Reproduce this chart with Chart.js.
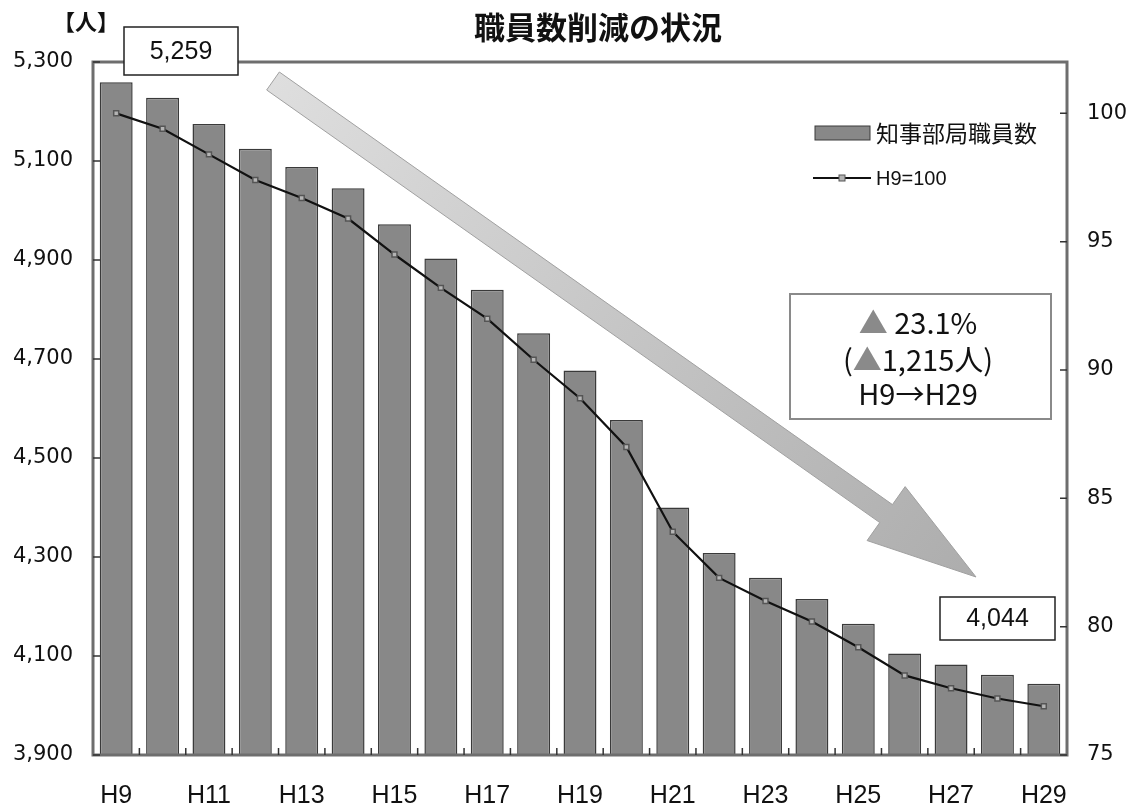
<!DOCTYPE html>
<html>
<head>
<meta charset="utf-8">
<script src="https://cdn.jsdelivr.net/npm/chart.js@4.4.0/dist/chart.umd.min.js"></script>
<style>
  body { margin: 0; background: #fff; }
</style>
</head>
<body>
<canvas id="grafico" width="1141" height="810"></canvas>
<script>
// data
var years = ['H9','H10','H11','H12','H13','H14','H15','H16','H17','H18','H19',
             'H20','H21','H22','H23','H24','H25','H26','H27','H28','H29'];
var staffCount = [5259, 5228, 5175, 5125, 5088, 5045, 4972, 4903, 4840, 4752, 4677,
                  4577, 4400, 4308, 4258, 4215, 4165, 4105, 4083, 4062, 4044];
var indexH9 = [100, 99.4, 98.4, 97.4, 96.7, 95.9, 94.5, 93.2, 92.0, 90.4, 88.9,
               87.0, 83.7, 81.9, 81.0, 80.2, 79.2, 78.1, 77.6, 77.2, 76.9];
var leftTicks = [3900, 4100, 4300, 4500, 4700, 4900, 5100, 5300];
var rightTicks = [75, 80, 85, 90, 95, 100];
var summaryLines = ['▲ 23.1%', '(▲1,215人)', 'H9→H29'];
var chartTitle = '職員数削減の状況';

var FONT = "'Liberation Sans', Arial, 'Noto Sans CJK JP', sans-serif";
var AXFONT = "'DejaVu Sans', 'Liberation Sans', sans-serif";
var JFONT = "'Noto Sans CJK JP', 'Liberation Sans', sans-serif";

function fmt(v) {
    return v.toLocaleString('en-US');
}

// frame, inward tick marks, the big arrow, text boxes and legend
var extras = {
    id: 'extras',
    beforeDatasetsDraw: function(chart) {
        var ctx = chart.ctx;
        // big diagonal arrow
        var sx = 273, sy = 81, tx = 976, ty = 577;
        var dx = tx - sx, dy = ty - sy;
        var len = Math.sqrt(dx * dx + dy * dy);
        var ux = dx / len, uy = dy / len;
        var nx = -uy, ny = ux;
        var bx = tx - ux * 110, by = ty - uy * 110;
        var w = 11, hw = 33;
        ctx.save();
        var g = ctx.createLinearGradient(sx, sy, tx, ty);
        g.addColorStop(0, '#dedede');
        g.addColorStop(1, '#adadad');
        ctx.fillStyle = g;
        ctx.strokeStyle = '#a0a0a0';
        ctx.lineWidth = 1;
        ctx.beginPath();
        ctx.moveTo(sx + nx * w, sy + ny * w);
        ctx.lineTo(bx + nx * w, by + ny * w);
        ctx.lineTo(bx + nx * hw, by + ny * hw);
        ctx.lineTo(tx, ty);
        ctx.lineTo(bx - nx * hw, by - ny * hw);
        ctx.lineTo(bx - nx * w, by - ny * w);
        ctx.lineTo(sx - nx * w, sy - ny * w);
        ctx.closePath();
        ctx.fill();
        ctx.stroke();
        ctx.restore();
    },
    afterDraw: function(chart) {
        var ctx = chart.ctx;
        var a = chart.chartArea;
        var x = chart.scales.x, y = chart.scales.y, y2 = chart.scales.y2;
        ctx.save();

        // plot frame
        ctx.strokeStyle = '#6e6e6e';
        ctx.lineWidth = 3;
        ctx.strokeRect(a.left, a.top, a.right - a.left, a.bottom - a.top);

        // tick marks pointing inward
        ctx.strokeStyle = '#333';
        ctx.lineWidth = 1.5;
        ctx.beginPath();
        for (var i = 0; i < leftTicks.length; i++) {
            var py = y.getPixelForValue(leftTicks[i]);
            ctx.moveTo(a.left, py); ctx.lineTo(a.left + 7, py);
        }
        for (var j = 0; j < rightTicks.length; j++) {
            var qy = y2.getPixelForValue(rightTicks[j]);
            ctx.moveTo(a.right - 7, qy); ctx.lineTo(a.right, qy);
        }
        for (var k = 1; k < years.length; k++) {
            var px = (x.getPixelForValue(k - 1) + x.getPixelForValue(k)) / 2;
            ctx.moveTo(px, a.bottom); ctx.lineTo(px, a.bottom - 7);
        }
        ctx.stroke();

        // title and unit label
        ctx.fillStyle = '#111';
        ctx.font = 'bold 31px ' + JFONT;
        ctx.textAlign = 'center';
        ctx.textBaseline = 'middle';
        ctx.fillText(chartTitle, 598, 27);
        ctx.font = 'bold 22px ' + JFONT;
        ctx.fillText('【人】', 86, 22);

        // first / last value boxes
        function valueBox(x0, y0, w, h, txt) {
            ctx.fillStyle = '#fff';
            ctx.fillRect(x0, y0, w, h);
            ctx.strokeStyle = '#222';
            ctx.lineWidth = 1.5;
            ctx.strokeRect(x0, y0, w, h);
            ctx.fillStyle = '#111';
            ctx.font = '25px ' + FONT;
            ctx.textAlign = 'center';
            ctx.textBaseline = 'middle';
            ctx.fillText(txt, x0 + w / 2, y0 + h / 2 + 1);
        }
        valueBox(124, 27, 114, 48, fmt(staffCount[0]));
        valueBox(940, 597, 115, 43, fmt(staffCount[staffCount.length - 1]));

        // summary box
        ctx.fillStyle = '#fff';
        ctx.fillRect(790, 294, 261, 125);
        ctx.strokeStyle = '#8a8a8a';
        ctx.lineWidth = 2;
        ctx.strokeRect(790, 294, 261, 125);
        var lineY = [323, 360, 394];
        ctx.font = '29px ' + JFONT;
        ctx.textBaseline = 'middle';
        for (var m = 0; m < summaryLines.length; m++) {
            var parts = summaryLines[m].split('▲');
            var total = ctx.measureText(summaryLines[m]).width;
            var cx = 918 - total / 2;
            ctx.textAlign = 'left';
            for (var p = 0; p < parts.length; p++) {
                if (p > 0) {
                    ctx.fillStyle = '#8a8a8a';
                    ctx.fillText('▲', cx, lineY[m]);
                    cx += ctx.measureText('▲').width;
                }
                ctx.fillStyle = '#111';
                ctx.fillText(parts[p], cx, lineY[m]);
                cx += ctx.measureText(parts[p]).width;
            }
        }

        // legend
        var ds = chart.data.datasets;
        ctx.fillStyle = ds[0].backgroundColor;
        ctx.fillRect(815, 126, 55, 14);
        ctx.strokeStyle = ds[0].borderColor;
        ctx.lineWidth = 1;
        ctx.strokeRect(815, 126, 55, 14);
        ctx.fillStyle = '#111';
        ctx.textAlign = 'left';
        ctx.font = '23px ' + JFONT;
        ctx.fillText(ds[0].label, 876, 133);

        ctx.strokeStyle = ds[1].borderColor;
        ctx.lineWidth = 2;
        ctx.beginPath();
        ctx.moveTo(813, 178); ctx.lineTo(871, 178);
        ctx.stroke();
        ctx.fillStyle = ds[1].pointBackgroundColor;
        ctx.fillRect(839, 175, 6, 6);
        ctx.strokeStyle = ds[1].pointBorderColor;
        ctx.lineWidth = 1;
        ctx.strokeRect(839, 175, 6, 6);
        ctx.fillStyle = '#111';
        ctx.font = '20px ' + FONT;
        ctx.fillText(ds[1].label, 876, 179);

        ctx.restore();
    }
};

var canvas = document.getElementById('grafico');
var graph = new Chart(canvas, {
    type: 'bar',
    data: {
        labels: years,
        datasets: [{
            type: 'bar',
            label: '知事部局職員数',
            data: staffCount,
            yAxisID: 'y',
            backgroundColor: '#888888',
            borderColor: '#3a3a3a',
            borderWidth: 1.5,
            barPercentage: 0.71,
            categoryPercentage: 1.0,
            order: 2
        }, {
            type: 'line',
            label: 'H9=100',
            data: indexH9,
            yAxisID: 'y2',
            borderColor: '#111',
            borderWidth: 2.2,
            tension: 0,
            pointStyle: 'rect',
            pointRadius: 3.5,
            pointBackgroundColor: '#b4b4b4',
            pointBorderColor: '#555',
            pointBorderWidth: 1.5,
            order: 1
        }]
    },
    options: {
        responsive: false,
        animation: false,
        layout: { padding: { left: 0, right: 0, top: 62, bottom: 0 } },
        plugins: {
            legend: { display: false },
            tooltip: { enabled: false },
            title: { display: false }
        },
        scales: {
            x: {
                grid: { display: false, drawTicks: false },
                border: { display: false },
                ticks: {
                    autoSkip: false,
                    maxRotation: 0,
                    padding: 26,
                    color: '#111',
                    font: { family: FONT, size: 25 },
                    callback: function(val, idx) {
                        return idx % 2 === 0 ? years[idx] : '';
                    }
                },
                afterFit: function(s) { s.height = 55; }
            },
            y: {
                position: 'left',
                min: 3900,
                max: 5300,
                grid: { display: false, drawTicks: false },
                border: { display: false },
                ticks: {
                    stepSize: 200,
                    padding: 20,
                    color: '#111',
                    font: { family: AXFONT, size: 21 },
                    callback: function(v) { return fmt(v); }
                },
                afterFit: function(s) { s.width = 93; }
            },
            y2: {
                position: 'right',
                min: 75,
                max: 102,
                grid: { display: false, drawTicks: false },
                border: { display: false },
                afterBuildTicks: function(s) {
                    s.ticks = rightTicks.map(function(v) { return { value: v }; });
                },
                ticks: {
                    stepSize: 5,
                    padding: 20,
                    color: '#111',
                    font: { family: AXFONT, size: 21 }
                },
                afterFit: function(s) { s.width = 74; }
            }
        }
    },
    plugins: [extras]
});
</script>
</body>
</html>
